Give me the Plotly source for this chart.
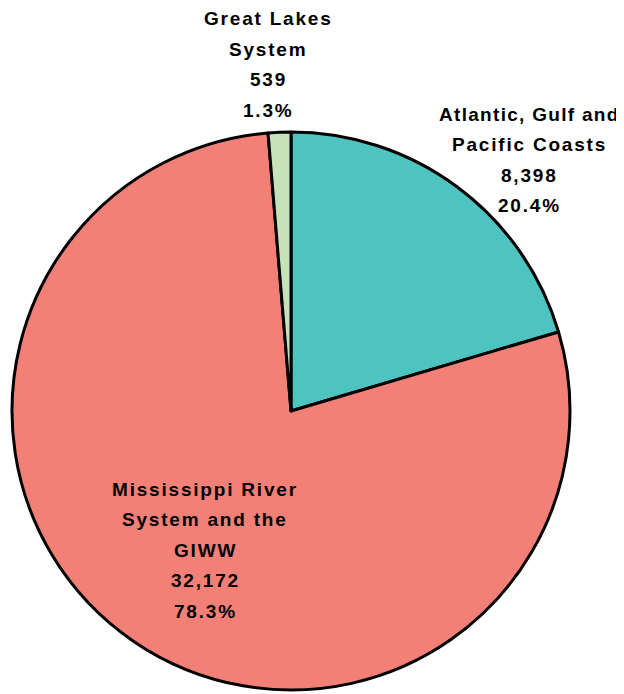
import plotly.graph_objects as go

categories = ["Atlantic, Gulf and Pacific Coasts", "Mississippi River System and the GIWW", "Great Lakes System"]
values = [8398, 32172, 539]
percents = ["20.4%", "78.3%", "1.3%"]
label_lines = [
    ["Atlantic, Gulf and", "Pacific Coasts"],
    ["Mississippi River", "System and the", "GIWW"],
    ["Great Lakes", "System"],
]
colors = ["#4EC3C0", "#F28077", "#C6E2B9"]

OFF = 8  # page body margin
W, H = 624 - OFF, 694 - OFF
cx, cy, r = 291 - OFF, 411 - OFF, 279

fig = go.Figure(go.Pie(
    labels=categories, values=values, sort=False, direction="clockwise",
    rotation=0, textinfo="none", hoverinfo="label+value+percent",
    marker=dict(colors=colors, line=dict(color="black", width=3)),
    domain=dict(x=[(cx - r) / W, (cx + r) / W], y=[1 - (cy + r) / H, 1 - (cy - r) / H]),
    showlegend=False,
))

# label block anchors: (center x px, first line y px)
anchors = [(529, 114), (205, 489), (268, 18.5)]
line_gap = 30.6
for i, (ax, ay) in enumerate(anchors):
    lines = label_lines[i] + [f"{values[i]:,}", percents[i]]
    for j, t in enumerate(lines):
        ls = 1.3 if t == "Atlantic, Gulf and" else 1.8
        fig.add_annotation(
            x=(ax - OFF) / W, y=1 - (ay - OFF + j * line_gap) / H, xref="paper", yref="paper",
            text=f'<span style="letter-spacing:{ls}px"><b>{t}</b></span>',
            showarrow=False, xanchor="center", yanchor="middle",
            font=dict(family="Liberation Sans, Arial, sans-serif", size=19, color="black"),
        )

fig.update_layout(
    width=W, height=H, margin=dict(l=0, r=0, t=0, b=0),
    paper_bgcolor="white", plot_bgcolor="white",
)
fig.write_html("out.html")
